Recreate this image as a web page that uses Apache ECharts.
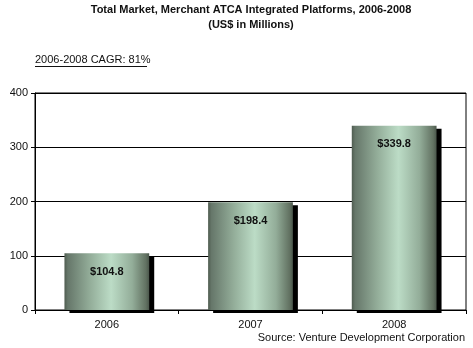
<!DOCTYPE html>
<html><head><meta charset="utf-8">
<script src="https://cdn.jsdelivr.net/npm/echarts@6/dist/echarts.min.js"></script>
<style>html,body{margin:0;padding:0;background:#fff}#c{width:473px;height:348px}</style>
</head><body><div id="c"></div>
<script>
var categories = ['2006', '2007', '2008'];
var values = [104.8, 198.4, 339.8];
var yTicks = [0, 100, 200, 300, 400];
var titleLine1 = 'Total Market, Merchant ATCA Integrated Platforms, 2006-2008';
var titleLine2 = '(US$ in Millions)';
var cagrText = '2006-2008 CAGR: 81%';
var sourceText = 'Source: Venture Development Corporation';

var font = 'Arial, "Liberation Sans", sans-serif';
var chart = echarts.init(document.getElementById('c'));
chart.setOption({
  animation: false,
  backgroundColor: '#fff',
  title: {
    text: titleLine1 + '\n' + titleLine2,
    left: 251, top: 2, padding: 0, textAlign: 'center',
    textStyle: {fontFamily: font, fontSize: 11, fontWeight: 'bold', color: '#111', lineHeight: 15}
  },
  graphic: [
    {type: 'text', left: 35, top: 54, style: {text: cagrText, font: '11px ' + font, fill: '#111'}},
    {type: 'line', shape: {x1: 35, y1: 66.5, x2: 147, y2: 66.5}, style: {stroke: '#111', lineWidth: 1}},
    {type: 'text', right: 8, top: 332, style: {text: sourceText, font: '11px ' + font, fill: '#111'}}
  ],
  grid: {left: 35, right: 7, top: 93, bottom: 38, show: true, borderColor: '#000', borderWidth: 1, backgroundColor: 'transparent'},
  xAxis: {
    type: 'category', data: categories,
    axisLine: {lineStyle: {color: '#000', width: 1}},
    axisTick: {show: true, length: 4, lineStyle: {color: '#000'}},
    axisLabel: {fontFamily: font, fontSize: 11, color: '#111', margin: 9}
  },
  yAxis: {
    type: 'value', min: 0, max: 400, interval: 100,
    axisLine: {show: true, lineStyle: {color: '#000', width: 1}},
    axisTick: {show: true, length: 4, lineStyle: {color: '#000'}},
    axisLabel: {fontFamily: font, fontSize: 11, color: '#111', margin: 7},
    splitLine: {lineStyle: {color: '#000', width: 1}}
  },
  series: [{
    type: 'bar', data: values, barWidth: '59%',
    itemStyle: {
      color: new echarts.graphic.LinearGradient(0, 0, 1, 0, [
        {offset: 0, color: '#4f5c50'},
        {offset: 0.04, color: '#66776a'},
        {offset: 0.3, color: '#93ad99'},
        {offset: 0.55, color: '#bcdcc6'},
        {offset: 0.8, color: '#93ad99'},
        {offset: 0.96, color: '#627262'},
        {offset: 1, color: '#4a564b'}
      ]),
      borderWidth: 0,
      shadowColor: '#000', shadowOffsetX: 5, shadowOffsetY: 3, shadowBlur: 0
    },
    label: {
      show: true, position: 'insideTop', distance: 13,
      formatter: function (p) { return '$' + p.value.toFixed(1); },
      fontFamily: font, fontSize: 11, fontWeight: 'bold', color: '#111'
    }
  }]
});
</script></body></html>
